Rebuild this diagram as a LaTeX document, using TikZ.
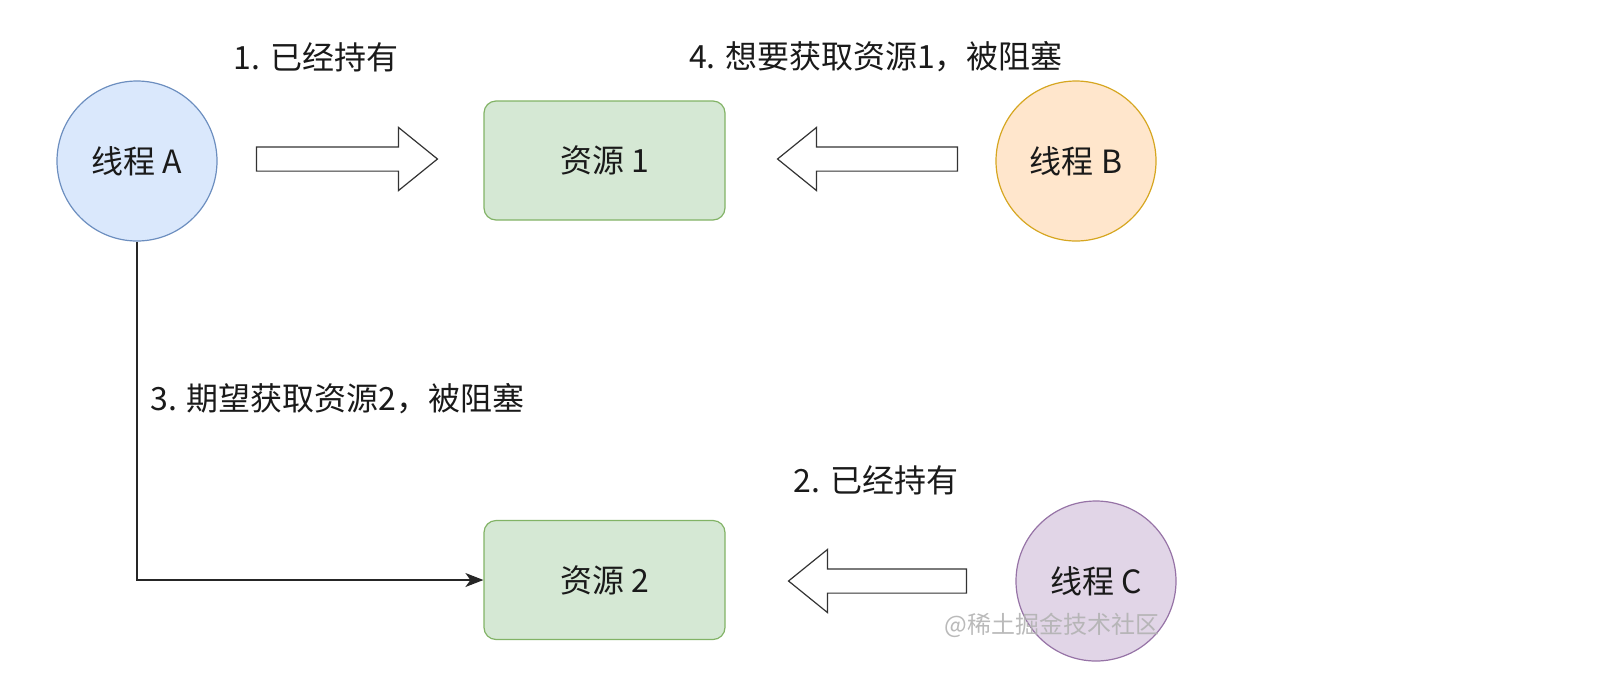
\documentclass[tikz,border=0pt]{standalone}
\usepackage{fontspec}
\setmainfont{Noto Sans CJK SC}
\usetikzlibrary{shapes.arrows,arrows.meta}
\definecolor{txt}{HTML}{1A1A1A}
\definecolor{blueF}{HTML}{DAE8FC}\definecolor{blueD}{HTML}{6C8EBF}
\definecolor{greenF}{HTML}{D5E8D4}\definecolor{greenD}{HTML}{82B366}
\definecolor{orangeF}{HTML}{FFE6CC}\definecolor{orangeD}{HTML}{D6A620}
\definecolor{purpleF}{HTML}{E1D5E7}\definecolor{purpleD}{HTML}{9673A6}
\tikzset{
  base/.style={font=\fontsize{16pt}{19pt}\selectfont, text=txt},
  thread/.style={base, circle, minimum size=80pt, inner sep=0pt, line width=0.6pt},
  res/.style={base, rectangle, rounded corners=6pt, minimum width=120.5pt, minimum height=59.5pt,
    fill=greenF, draw=greenD, line width=0.6pt},
  hollow/.style={single arrow, draw=black!80, fill=white, line width=0.6pt,
    minimum height=#1, minimum width=31pt, inner sep=0pt, inner ysep=5.75pt,
    single arrow head extend=9.75pt, single arrow tip angle=78},
  lbl/.style={base, inner sep=0pt},
  conn/.style={draw=black!85, line width=0.6pt, -{Stealth[length=9pt,width=7pt,inset=2.5pt]}}
}
\begin{document}
\begin{tikzpicture}[x=0.5pt,y=-0.5pt]
\useasboundingbox (0,0) rectangle (1612,692);
\node[thread, fill=blueF, draw=blueD] (A) at (137,161) {线程 A};
\node[res] (R1) at (604.5,160.5) {资源 1};
\node[thread, fill=orangeF, draw=orangeD] (B) at (1076,161) {线程 B};
\node[res] (R2) at (604.5,580) {资源 2};
\node[thread, fill=purpleF, draw=purpleD] (C) at (1096,581) {线程 C};
\node[hollow=90.5pt] (h1) at (339.5,159) {};
\node[hollow=90pt, shape border rotate=180] (h4) at (875,159) {};
\node[hollow=89pt, shape border rotate=180] (h2) at (885,581) {};
\node[lbl] (l1) at (316,57) {1. 已经持有};
\node[lbl] (l4) at (876,57) {4. 想要获取资源1，被阻塞};
\node[lbl, anchor=west] (l3) at (150,399) {3. 期望获取资源2，被阻塞};
\node[lbl] (l2) at (876,480) {2. 已经持有};
\draw[conn] (A.south) |- (R2.west);
\node[font=\fontsize{12pt}{14pt}\selectfont, text=black!30, opacity=0.9, inner sep=0pt] (wm) at (1052,625) {@稀土掘金技术社区};
\end{tikzpicture}
\end{document}
